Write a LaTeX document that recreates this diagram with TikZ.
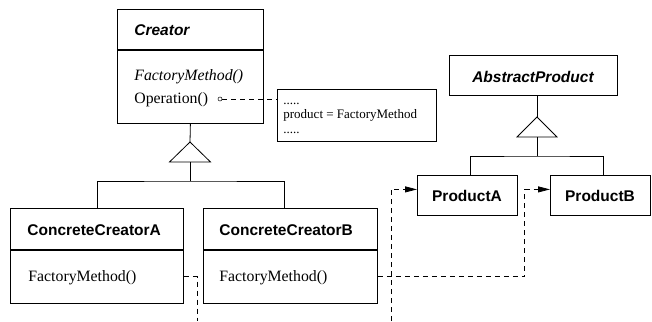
\documentclass[tikz,border=0pt]{standalone}
\usepackage{fontspec}
\setmainfont{Liberation Serif}
\setsansfont{Liberation Sans}
\usetikzlibrary{arrows.meta}
\begin{document}
\begin{tikzpicture}[x=1pt,y=-1pt,line width=0.8pt,
  box/.style={draw,rectangle,inner sep=0pt,anchor=north west},
  clsname/.style={font=\sffamily\bfseries\fontsize{15.5}{18}\selectfont,inner sep=0pt,anchor=base west},
  absname/.style={font=\sffamily\bfseries\itshape\fontsize{15.5}{18}\selectfont,inner sep=0pt,anchor=base west},
  prodname/.style={font=\sffamily\bfseries\fontsize{15.5}{18}\selectfont,inner sep=0pt,anchor=base},
  op/.style={font=\fontsize{15.8}{18}\selectfont,inner sep=0pt,anchor=base west},
  notetext/.style={font=\fontsize{13}{15}\selectfont,inner sep=0pt,anchor=base west},
  dep/.style={dash pattern=on 5pt off 4pt},
  deparrow/.style={dep,-{Triangle[length=12pt,width=6pt]}},
]
\useasboundingbox (0,0) rectangle (652,321);

% Creator (abstract class)
\node[box,minimum width=146pt,minimum height=40pt] (crH) at (117,9) {};
\node[box,minimum width=146pt,minimum height=73pt] (crB) at (crH.south west) {};
\node[absname] (crT) at (134,36) {Creator};
\node[op,font=\itshape\fontsize{15.8}{18}\selectfont] (crF) at (134,80) {FactoryMethod()};
\node[op] (crO) at (134,103) {Operation()};
\node[circle,draw,inner sep=0pt,minimum size=4pt,line width=0.5pt] (opDot) at (220,99) {};

% implementation note
\node[box,minimum width=159pt,minimum height=52pt] (note) at (277,89) {};
\node[notetext] (n1) at (283,104) {.....};
\node[notetext] (n2) at (283,118.5) {product = FactoryMethod};
\node[notetext] (n3) at (283,133) {.....};
\draw[dep] (opDot) -- (opDot -| note.west);

% inheritance: Creator
\coordinate (crTip) at (190,142);
\coordinate (crBase) at (190,162);
\coordinate (crBar) at (190,181);
\draw (crTip) -- ++(20.5,20) -- ++(-41,0) -- cycle;
\draw (crB.south) -- (crTip);
\draw (crBase) -- (crBar);

% ConcreteCreatorA
\node[box,minimum width=173pt,minimum height=41pt] (ccaH) at (10,208) {};
\node[box,minimum width=173pt,minimum height=53pt] (ccaB) at (ccaH.south west) {};
\node[clsname] (ccaT) at (27,235) {ConcreteCreatorA};
\node[op] (ccaF) at (28,281) {FactoryMethod()};

% ConcreteCreatorB
\node[box,minimum width=174pt,minimum height=41pt] (ccbH) at (203,208) {};
\node[box,minimum width=174pt,minimum height=53pt] (ccbB) at (ccbH.south west) {};
\node[clsname] (ccbT) at (219,235) {ConcreteCreatorB};
\node[op] (ccbF) at (219,281) {FactoryMethod()};

\draw (ccaH.north) |- (crBar) -| ([xshift=81pt]ccbH.north west);

% AbstractProduct and its subclasses
\node[box,minimum width=168pt,minimum height=40pt] (apH) at (449,55) {};
\node[absname,anchor=base] (apT) at (533,82) {AbstractProduct};
\coordinate (apTip) at (537,117);
\coordinate (apBase) at (537,137);
\coordinate (apBar) at (537,156);
\draw (apTip) -- ++(20,20) -- ++(-40,0) -- cycle;
\draw (apTip |- apH.south) -- (apTip);
\draw (apBase) -- (apBar);

\node[box,minimum width=100pt,minimum height=40pt] (paH) at (417,175) {};
\node[prodname] (paT) at (467,201) {ProductA};
\node[box,minimum width=100pt,minimum height=40pt] (pbH) at (550,175) {};
\node[prodname] (pbT) at (600,201) {ProductB};

\draw ([xshift=53pt]paH.north west) |- (apBar) -| ([xshift=53pt]pbH.north west);

% creation dependencies
\coordinate (ccaOut) at (197,321);
\coordinate (paIn) at (391,321);
\draw[dep] (ccaB.east) -| (ccaOut);
\draw[deparrow] (paIn) |- ([yshift=6pt]paH.west);
\draw[deparrow] (ccbB.east) -- ++(147,0) |- ([yshift=6pt]pbH.west);
\end{tikzpicture}
\end{document}
